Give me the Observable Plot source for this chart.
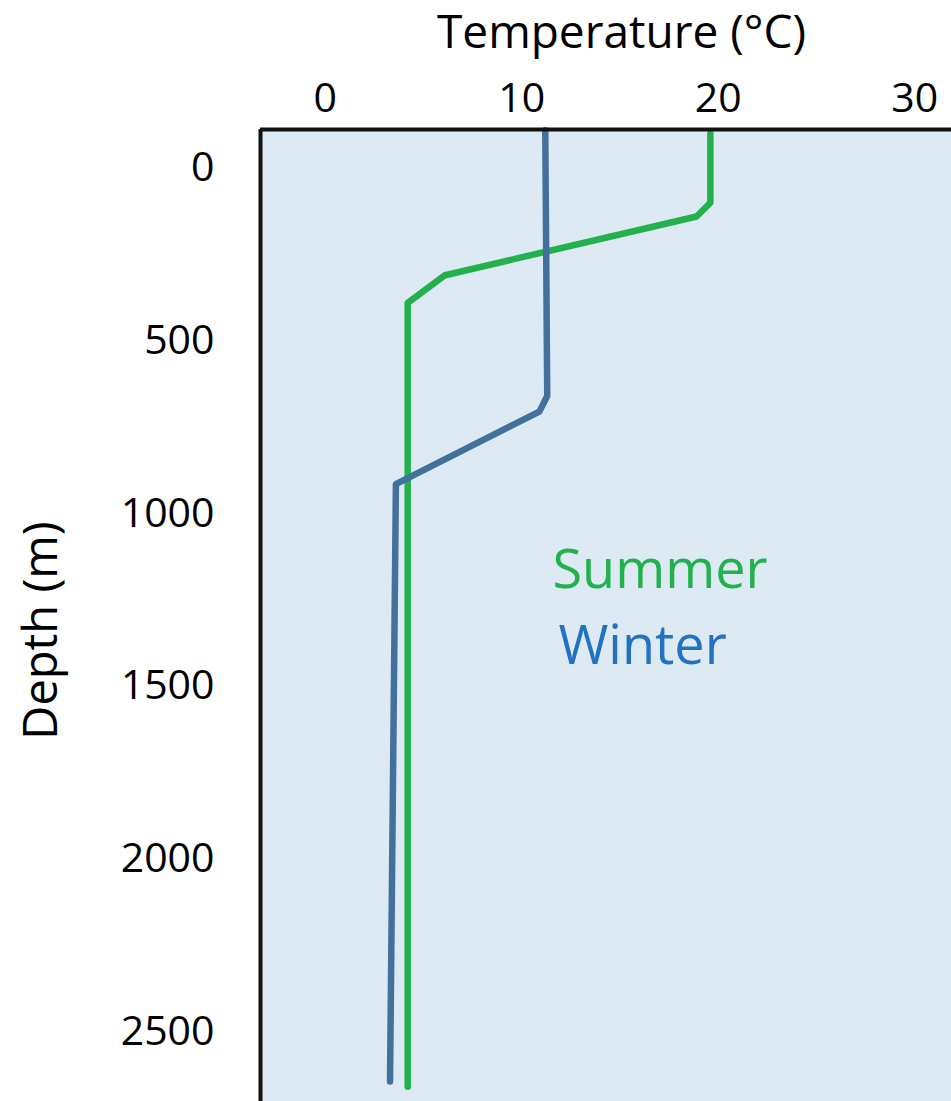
<!DOCTYPE html>
<html>
<head>
<meta charset="utf-8">
<script src="https://cdn.jsdelivr.net/npm/d3@7"></script>
<script src="https://cdn.jsdelivr.net/npm/@observablehq/plot@0.6"></script>
<style>
  html, body { margin: 0; padding: 0; background: #fff; }
  #chart svg { display: block; }
</style>
</head>
<body>
<div id="chart"></div>
<script>
// ---- Data ----
const summerTemp  = [19.6, 19.6, 18.9, 6.1, 4.2, 4.2];
const summerDepth = [-100, 100, 140, 310, 390, 2660];
const winterTemp  = [11.2, 11.3, 10.9, 3.6, 3.3];
const winterDepth = [-110, 660, 705, 915, 2645];

const xTicks = [0, 10, 20, 30];
const yTicks = [0, 500, 1000, 1500, 2000, 2500];
const xDomain = [-3.29, 31.87];
const yDomain = [-112, 2703];

const xTitle = "Temperature (°C)";
const yTitle = "Depth (m)";
const seriesNames = ["Summer", "Winter"];

// ---- Styles ----
const green = "#22b14c";
const blueLine = "#41719c";
const blueText = "#2272c3";
const bg = "#ddeaf4";
const font = "Open Sans";

const summer = summerTemp.map((t, i) => ({temp: t, depth: summerDepth[i]}));
const winter = winterTemp.map((t, i) => ({temp: t, depth: winterDepth[i]}));

const chart = Plot.plot({
  width: 951,
  height: 1101,
  marginTop: 129,
  marginLeft: 260,
  marginRight: 0,
  marginBottom: 0,
  style: {fontFamily: font, fontSize: "41px", color: "#000", background: "transparent", overflow: "visible"},
  x: {domain: xDomain, axis: "top", ticks: xTicks, tickSize: 0, tickPadding: 18, label: null, tickFormat: "d"},
  y: {domain: yDomain, reverse: true, ticks: yTicks, tickSize: 0, tickPadding: 46, label: null, tickFormat: "d"},
  marks: [
    Plot.frame({fill: bg, stroke: "none"}),
    Plot.line(summer, {x: "temp", y: "depth", stroke: green, strokeWidth: 6.5}),
    Plot.line(winter, {x: "temp", y: "depth", stroke: blueLine, strokeWidth: 6.5}),
    Plot.ruleX([xDomain[0]], {stroke: "#111", strokeWidth: 4}),
    Plot.ruleY([yDomain[0]], {stroke: "#111", strokeWidth: 4}),
    Plot.text([xTitle], {frameAnchor: "top", dx: 15.5, dy: -82, textAnchor: "middle", lineAnchor: "bottom", fontSize: 46, fontFamily: font, fill: "#000"}),
    Plot.text([yTitle], {frameAnchor: "left", dx: -219, dy: 15, rotate: -90, textAnchor: "middle", lineAnchor: "middle", fontSize: 47, fontFamily: font, fill: "#000"}),
    Plot.text([seriesNames[0]], {frameAnchor: "top-left", dx: 292, dy: 458, textAnchor: "start", lineAnchor: "bottom", fontSize: 54, fontFamily: font, fill: green}),
    Plot.text([seriesNames[1]], {frameAnchor: "top-left", dx: 298, dy: 534, textAnchor: "start", lineAnchor: "bottom", fontSize: 54, fontFamily: font, fill: blueText})
  ]
});

document.getElementById("chart").appendChild(chart);
</script>
</body>
</html>
